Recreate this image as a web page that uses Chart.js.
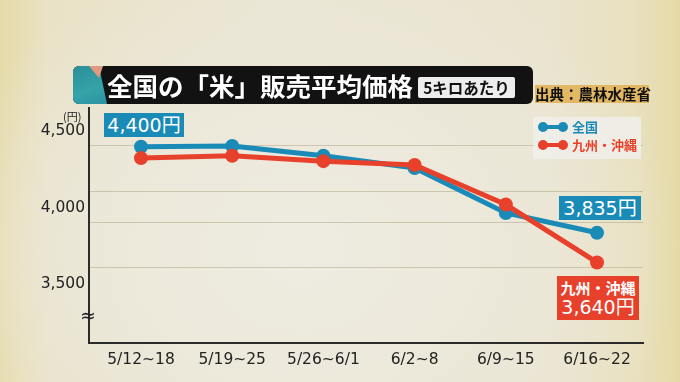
<!DOCTYPE html>
<html><head><meta charset="utf-8">
<script src="https://cdn.jsdelivr.net/npm/chart.js@4/dist/chart.umd.min.js"></script>
<style>
html,body{margin:0;padding:0;}
body{width:680px;height:382px;overflow:hidden;position:relative;
 background:
  radial-gradient(ellipse 380px 300px at 300px 250px, rgba(238,235,225,1) 0%, rgba(236,232,218,0.9) 55%, rgba(233,226,200,0) 100%),
  linear-gradient(90deg,#e5daa8 0%,#e9e2c6 7%,#ebe6d3 40%,#eae4cf 80%,#e8e0bd 94%,#e5daa6 100%);
 font-family:"DejaVu Sans","Noto Sans CJK JP",sans-serif;}
.abs{position:absolute;}
canvas{position:absolute;left:0;top:0;}
#title{left:73px;top:66px;width:460px;height:38px;background:#121212;border-radius:6px;overflow:hidden;}
#deco{left:0;top:0;width:36px;height:38px;background:linear-gradient(160deg,#2a8f9a,#35a3a8 60%,#2c8fa5);clip-path:polygon(0 0,26px 0,34px 38px,0 38px);}
#deco2{left:16px;top:0;width:14px;height:12px;background:#e09a82;clip-path:polygon(0 0,14px 0,10px 12px);}
#ttext{left:34px;top:0;height:38px;line-height:38px;color:#fff;font-family:"Noto Sans CJK JP",sans-serif;font-weight:700;font-size:25.5px;white-space:nowrap;}
#unit5{left:345px;top:11px;width:97px;height:21px;line-height:21px;background:#ededed;color:#111;text-align:center;font-family:"Noto Sans CJK JP",sans-serif;font-weight:700;font-size:15.5px;border-radius:2px;}
#src{left:535px;top:85px;width:114px;height:18px;line-height:18px;background:#e2b865;color:#111;text-align:center;font-family:"Noto Sans CJK JP",sans-serif;font-weight:700;font-size:14.5px;white-space:nowrap;}
#legend{left:533px;top:117px;width:108px;height:42px;background:rgba(240,239,234,0.85);}
.lg{position:absolute;left:5px;width:30px;height:10px;}
.lg .ln{position:absolute;left:4px;top:3px;width:22px;height:4px;}
.lg .c1,.lg .c2{position:absolute;top:0;width:10px;height:10px;border-radius:50%;}
.lg .c1{left:0}.lg .c2{left:20px}
.lt{position:absolute;left:39px;font-family:"Noto Sans CJK JP",sans-serif;font-weight:700;font-size:13px;line-height:16px;white-space:nowrap;}
.ann{position:absolute;color:#fff;text-align:center;white-space:nowrap;}
#a1{left:104px;top:113px;width:80px;height:24px;line-height:24px;background:#1a8bb6;font-size:19px;}
#a2{left:559px;top:196px;width:82px;height:24px;line-height:24px;background:#1a8bb6;font-size:19px;}
#a3{left:557px;top:276px;width:82px;height:44px;background:#e8412b;}
#a3 .k{font-family:"Noto Sans CJK JP",sans-serif;font-weight:700;font-size:15px;line-height:19px;margin-top:2px;}
#a3 .v{font-size:19px;line-height:21px;}
#yen{left:63px;top:108px;font-family:"Noto Sans CJK JP",sans-serif;font-size:11px;color:#222;}
#brk{left:80px;top:304px;font-size:19px;color:#222;line-height:22px;}
</style></head>
<body>
<canvas id="c" width="680" height="382"></canvas>
<div id="title" class="abs">
  <div id="deco" class="abs"></div><div id="deco2" class="abs"></div>
  <div id="ttext" class="abs">全国の「米」販売平均価格</div>
  <div id="unit5" class="abs">5キロあたり</div>
</div>
<div id="src" class="abs">出典：農林水産省</div>
<div id="legend" class="abs">
  <div class="lg" style="top:5px"><div class="ln" style="background:#1a8bb6"></div><div class="c1" style="background:#1a8bb6"></div><div class="c2" style="background:#1a8bb6"></div></div>
  <div class="lt" style="top:2px;color:#1a8bb6">全国</div>
  <div class="lg" style="top:23px"><div class="ln" style="background:#e8412b"></div><div class="c1" style="background:#e8412b"></div><div class="c2" style="background:#e8412b"></div></div>
  <div class="lt" style="top:20px;color:#e8412b">九州・沖縄</div>
</div>
<div id="yen" class="abs">(円)</div>
<div id="brk" class="abs">≈</div>
<div id="a1" class="ann">4,400円</div>
<div id="a2" class="ann">3,835円</div>
<div id="a3" class="ann"><div class="k">九州・沖縄</div><div class="v">3,640円</div></div>
<script>
const categories = ['5/12~18','5/19~25','5/26~6/1','6/2~8','6/9~15','6/16~22'];
const zenkoku = [4400, 4405, 4340, 4260, 3965, 3835];
const kyushuOkinawa = [4325, 4340, 4305, 4280, 4020, 3640];
const yTicks = [3500, 4000, 4500];
const yGridLines = [4405, 4103, 3899, 3604];
const yRange = [3111, 4654];
const xRange = [-0.57, 5.504];

const toPts = arr => arr.map((v,i)=>({x:i,y:v}));
const BLUE = '#1a8bb6', RED = '#e8412b';

new Chart(document.getElementById('c'), {
  type: 'line',
  data: {
    datasets: [
      {label:'全国', data: toPts(zenkoku), borderColor: BLUE, backgroundColor: BLUE, pointBackgroundColor: BLUE,
       borderWidth: 5, pointRadius: 7, pointBorderWidth: 0, tension: 0, order: 1},
      {label:'九州・沖縄', data: toPts(kyushuOkinawa), borderColor: RED, backgroundColor: RED, pointBackgroundColor: RED,
       borderWidth: 5, pointRadius: 7, pointBorderWidth: 0, tension: 0, order: 0}
    ]
  },
  options: {
    responsive: false, animation: false, devicePixelRatio: 1,
    layout: {padding: {left: 0, top: 108, right: 37, bottom: 0}},
    plugins: {legend: {display: false}, tooltip: {enabled: false}},
    scales: {
      x: {
        type: 'linear', position: 'bottom', min: xRange[0], max: xRange[1],
        afterFit: s => { s.height = 39; },
        afterBuildTicks: s => { s.ticks = categories.map((_, i) => ({value: i})); },
        ticks: {callback: v => categories[v], color: '#222', padding: 8, maxRotation: 0, autoSkip: false,
                font: {family: 'DejaVu Sans', size: 15.5}},
        grid: {display: false, drawTicks: false},
        border: {display: true, color: '#2b2b2b', width: 2}
      },
      y: {
        position: 'left', min: yRange[0], max: yRange[1],
        afterFit: s => { s.width = 89; },
        afterBuildTicks: s => { s.ticks = yTicks.map(v => ({value: v})); },
        ticks: {callback: v => v.toLocaleString('en-US'), color: '#222', padding: 4,
                font: {family: 'DejaVu Sans', size: 15.5}},
        grid: {display: false, drawTicks: false},
        border: {display: true, color: '#2b2b2b', width: 2}
      },
      yg: {
        position: 'left', min: yRange[0], max: yRange[1],
        afterFit: s => { s.width = 0; },
        afterBuildTicks: s => { s.ticks = yGridLines.map(v => ({value: v})); },
        ticks: {display: false},
        grid: {color: 'rgba(165,155,125,0.45)', lineWidth: 1, drawTicks: false},
        border: {display: false}
      }
    }
  }
});
</script>
</body></html>
